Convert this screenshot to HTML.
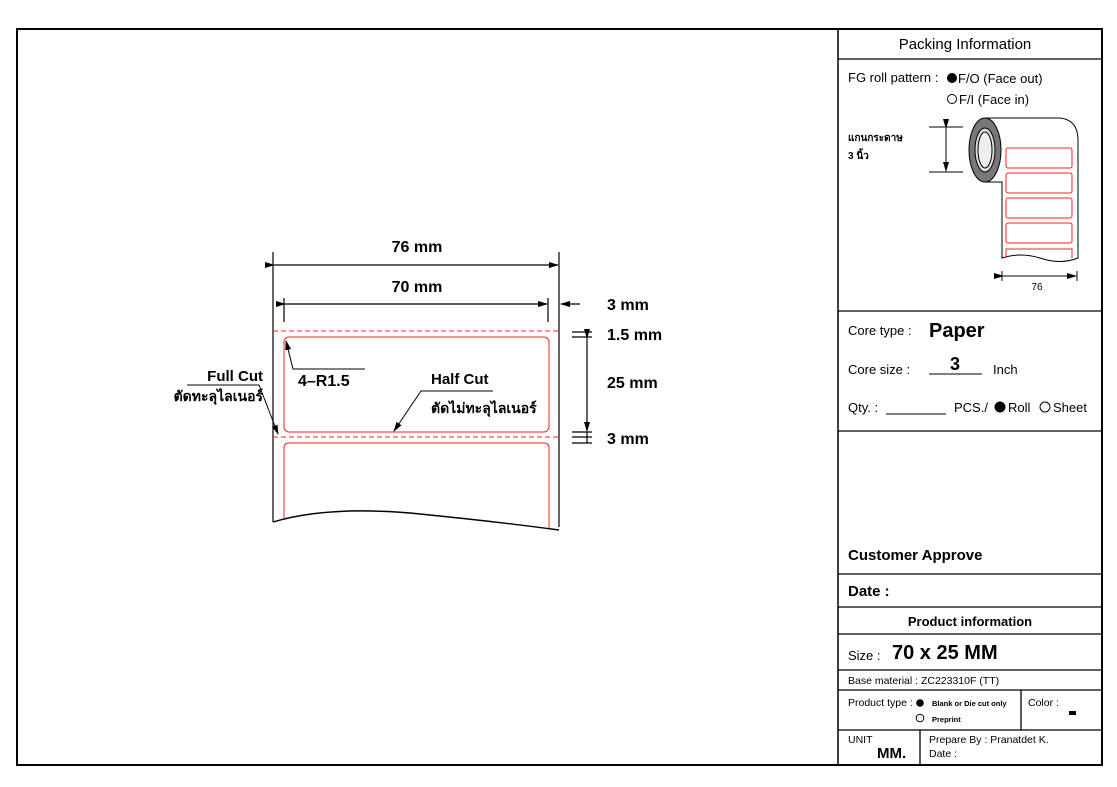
<!DOCTYPE html>
<html><head><meta charset="utf-8"><style>
html,body{margin:0;padding:0;background:#fff}
svg{display:block}
text{font-family:"Liberation Sans","Noto Sans CJK SC",sans-serif}
.b{font-weight:bold}
</style></head><body>
<svg width="1117" height="787" viewBox="0 0 1117 787" xmlns="http://www.w3.org/2000/svg">
<defs>
<marker id="a" markerWidth="10" markerHeight="8" refX="9" refY="4" orient="auto" markerUnits="userSpaceOnUse"><path d="M0,1 L10,4 L0,7 Z" fill="#000"/></marker>
</defs>
<rect x="17" y="29" width="1085" height="736" fill="none" stroke="#000" stroke-width="2"/>
<line x1="838" y1="29" x2="838" y2="765" stroke="#000" stroke-width="1.5"/>
<g stroke="#000" stroke-width="1.3">
<line x1="838" y1="59" x2="1102" y2="59"/>
<line x1="838" y1="311" x2="1102" y2="311"/>
<line x1="838" y1="431" x2="1102" y2="431"/>
<line x1="838" y1="574" x2="1102" y2="574"/>
<line x1="838" y1="607" x2="1102" y2="607"/>
<line x1="838" y1="634" x2="1102" y2="634"/>
<line x1="838" y1="670" x2="1102" y2="670"/>
<line x1="838" y1="690" x2="1102" y2="690"/>
<line x1="838" y1="730" x2="1102" y2="730"/>
<line x1="1021" y1="690" x2="1021" y2="730"/>
<line x1="920" y1="730" x2="920" y2="765"/>
</g>
<text x="965" y="49" font-size="15" text-anchor="middle">Packing Information</text>
<text x="848" y="82" font-size="13">FG roll pattern :</text>
<circle cx="952" cy="78" r="5" fill="#000"/>
<text x="958" y="83" font-size="13">F/O (Face out)</text>
<circle cx="952" cy="99" r="4.5" fill="none" stroke="#000"/>
<text x="959" y="104" font-size="13">F/I (Face in)</text>
<text x="848" y="141" font-size="10" class="b">แกนกระดาษ</text>
<text x="848" y="159" font-size="10" class="b">3 นิ้ว</text>
<g stroke="#000" stroke-width="1">
<line x1="929" y1="127" x2="963" y2="127"/><line x1="929" y1="172" x2="963" y2="172"/>
<line x1="946" y1="128" x2="946" y2="171" marker-start="url(#a)" marker-end="url(#a)"/>
<path d="M985,118 L1060,118 Q1078,120 1078,140 L1078,258 Q1060,265 1040,258 Q1020,252 1002,258 L1002,182 L985,182" fill="#fff"/>
<ellipse cx="985" cy="150" rx="16" ry="32" fill="#777"/>
<ellipse cx="985" cy="150" rx="10" ry="22" fill="#ddd"/>
<ellipse cx="985" cy="150" rx="7" ry="18" fill="#eee"/>
</g>
<g fill="none" stroke="#f22" stroke-width="1">
<rect x="1006" y="148" width="66" height="20" rx="2"/>
<rect x="1006" y="173" width="66" height="20" rx="2"/>
<rect x="1006" y="198" width="66" height="20" rx="2"/>
<rect x="1006" y="223" width="66" height="20" rx="2"/>
<path d="M1006,258 V249 H1072 V258"/>
</g>
<g stroke="#000"><line x1="1002" y1="271" x2="1002" y2="281"/><line x1="1077" y1="271" x2="1077" y2="281"/>
<line x1="1003" y1="276" x2="1076" y2="276" marker-start="url(#a)" marker-end="url(#a)"/></g>
<text x="1037" y="290" font-size="10" text-anchor="middle">76</text>

<text x="848" y="335" font-size="13">Core type :</text>
<text x="929" y="337" font-size="20" class="b">Paper</text>
<text x="848" y="374" font-size="13">Core size :</text>
<text x="955" y="370" font-size="18" class="b" text-anchor="middle">3</text>
<line x1="929" y1="374" x2="982" y2="374" stroke="#000"/>
<text x="993" y="374" font-size="13">Inch</text>
<text x="848" y="412" font-size="13">Qty. :</text>
<line x1="886" y1="414" x2="946" y2="414" stroke="#000"/>
<text x="954" y="412" font-size="13">PCS./</text>
<circle cx="1000" cy="407" r="5.5" fill="#000"/>
<text x="1008" y="412" font-size="13">Roll</text>
<circle cx="1045" cy="407" r="5" fill="none" stroke="#000"/>
<text x="1053" y="412" font-size="13">Sheet</text>
<text x="848" y="560" font-size="15" class="b">Customer Approve</text>
<text x="848" y="596" font-size="15" class="b">Date :</text>
<text x="970" y="626" font-size="13" class="b" text-anchor="middle">Product information</text>
<text x="848" y="660" font-size="13">Size :</text>
<text x="892" y="659" font-size="20" class="b">70 x 25 MM</text>
<text x="848" y="684" font-size="10.5">Base material : ZC223310F (TT)</text>
<text x="848" y="706" font-size="10.5">Product type :</text>
<circle cx="920" cy="703" r="3.8" fill="#000"/>
<text x="932" y="706" font-size="7.5" class="b">Blank or Die cut only</text>
<circle cx="920" cy="718" r="3.8" fill="none" stroke="#000"/>
<text x="932" y="722" font-size="7.5" class="b">Preprint</text>
<text x="1028" y="706" font-size="10.5">Color :</text>
<rect x="1069" y="711" width="7" height="4" fill="#000"/>
<text x="848" y="743" font-size="10.5">UNIT</text>
<text x="877" y="758" font-size="15" class="b">MM.</text>
<text x="929" y="743" font-size="10.5">Prepare By :  Pranatdet K.</text>
<text x="929" y="757" font-size="10.5">Date :</text>

<g stroke="#000" stroke-width="1.2" fill="none">
<line x1="273" y1="252" x2="273" y2="522"/>
<line x1="559" y1="252" x2="559" y2="527"/>
<line x1="274" y1="265" x2="558" y2="265" marker-start="url(#a)" marker-end="url(#a)"/>
<line x1="284" y1="298" x2="284" y2="322"/>
<line x1="548" y1="298" x2="548" y2="322"/>
<line x1="285" y1="304" x2="547" y2="304" marker-start="url(#a)" marker-end="url(#a)"/>
<line x1="580" y1="304" x2="561" y2="304" marker-end="url(#a)"/>
<line x1="572" y1="332" x2="592" y2="332"/><line x1="572" y1="337" x2="592" y2="337"/>
<line x1="572" y1="432" x2="592" y2="432"/><line x1="572" y1="437" x2="592" y2="437"/><line x1="572" y1="443" x2="592" y2="443"/>
<line x1="587" y1="338" x2="587" y2="431" marker-start="url(#a)" marker-end="url(#a)"/>
<line x1="587" y1="432" x2="587" y2="443"/>
<path d="M273,522 Q330,505 420,514 Q500,522 559,530" stroke-width="1.4" fill="#fff"/>
</g>
<g stroke="#f22" stroke-width="1" fill="none">
<line x1="273" y1="331" x2="559" y2="331" stroke-dasharray="5,3"/>
<line x1="273" y1="437" x2="559" y2="437" stroke-dasharray="5,3"/>
<rect x="284" y="337" width="265" height="95" rx="5"/>
<path d="M284,518 V448 Q284,443 289,443 H544 Q549,443 549,448 V528"/>
</g>
<g fill="#000" font-size="16">
<text x="417" y="252" text-anchor="middle" class="b">76 mm</text>
<text x="417" y="292" text-anchor="middle" class="b">70 mm</text>
<text x="607" y="310" class="b">3 mm</text>
<text x="607" y="340" class="b">1.5 mm</text>
<text x="607" y="388" class="b">25 mm</text>
<text x="607" y="444" class="b">3 mm</text>
<text x="263" y="381" text-anchor="end" font-size="15" class="b">Full Cut</text>
<text x="263" y="401" text-anchor="end" font-size="14" class="b">ตัดทะลุไลเนอร์</text>
<text x="298" y="386" class="b">4–R1.5</text>
<text x="431" y="384" font-size="15" class="b">Half Cut</text>
<text x="431" y="413" font-size="14" class="b">ตัดไม่ทะลุไลเนอร์</text>
</g>
<g stroke="#000" stroke-width="1" fill="none">
<path d="M187,385 H259 L278,434" marker-end="url(#a)"/>
<path d="M365,369 H293 L286,341" marker-end="url(#a)"/>
<path d="M493,391 H421 L394,431" marker-end="url(#a)"/>
</g>
</svg>
</body></html>
